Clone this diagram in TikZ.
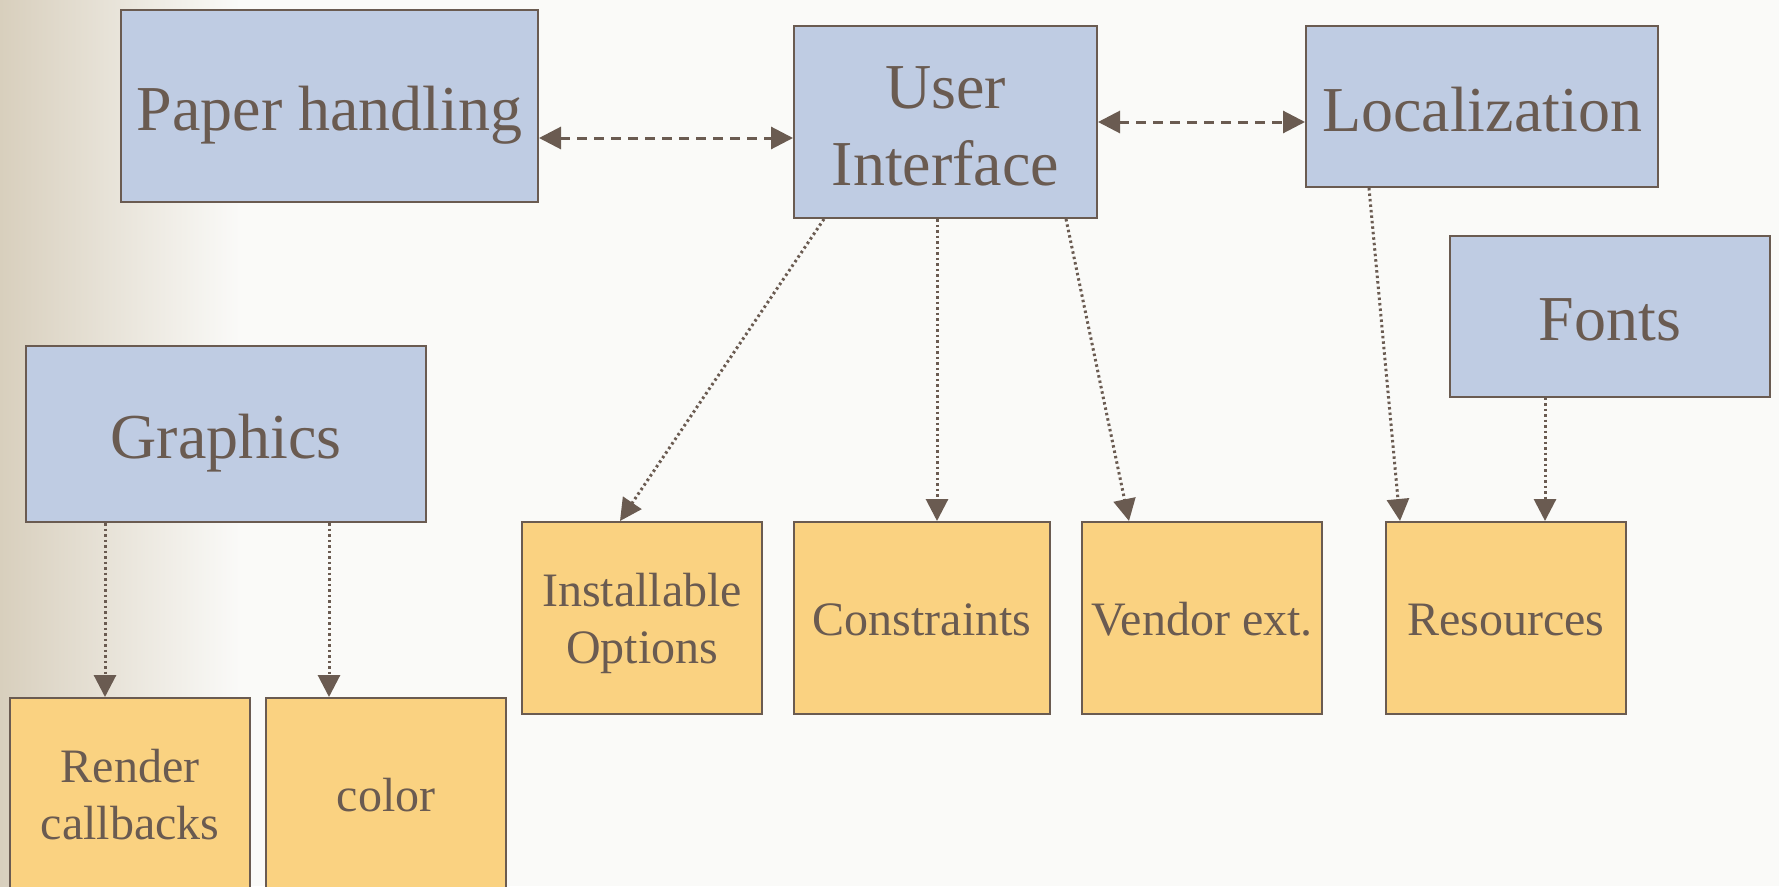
\documentclass[tikz,border=0pt]{standalone}
\usepackage{fontspec}
\setmainfont{Liberation Serif}
\usetikzlibrary{arrows.meta}
\definecolor{bgc}{HTML}{FAFAF8}
\definecolor{tanc}{HTML}{D8CFBD}
\definecolor{bluebox}{HTML}{BFCCE3}
\definecolor{orangebox}{HTML}{FAD281}
\definecolor{ink}{HTML}{6A5B51}
\begin{document}
\begin{tikzpicture}[x=1pt,y=-1pt,
  boxbase/.style={draw=ink, line width=2pt, text=ink, align=center, inner sep=0pt},
  bigbox/.style={boxbase, fill=bluebox, font=\fontsize{64}{77}\selectfont, text height=49pt, text depth=0pt},
  bigtwo/.style={bigbox, text height=126pt},
  smallbox/.style={boxbase, fill=orangebox, font=\fontsize{48}{57}\selectfont, minimum height=192pt, text height=34pt, text depth=0pt},
  smalltwo/.style={smallbox, text height=91pt},
  dasharr/.style={draw=ink, line width=3pt, dash pattern=on 10pt off 7pt,
    {Triangle[length=22pt,width=22pt]}-{Triangle[length=22pt,width=22pt]}},
  dotarr/.style={draw=ink, line width=3pt, dash pattern=on 2.5pt off 3pt,
    -{Triangle[length=22pt,width=22pt]}}
]
\useasboundingbox (0,0) rectangle (1779,886);
\fill[bgc] (0,0) rectangle (1779,886);
\shade[left color=tanc, right color=bgc] (0,0) rectangle (240,886);

\node[bigbox, minimum width=417pt, minimum height=192pt] (paper) at (329.5,106) {Paper handling};
\node[bigtwo, minimum width=303pt, minimum height=192pt] (ui) at (945.5,122) {User\\Interface};
\node[bigbox, minimum width=352pt, minimum height=161pt] (loc) at (1482,106.5) {Localization};
\node[bigbox, minimum width=320pt, minimum height=161pt] (fonts) at (1610,316) {Fonts};
\node[bigbox, minimum width=400pt, minimum height=176pt] (gfx) at (226,434) {Graphics};

\node[smalltwo, minimum width=240pt] (render) at (130,794) {Render\\callbacks};
\node[smallbox, minimum width=240pt] (color) at (386,794) {color};
\node[smalltwo, minimum width=240pt] (inst) at (642,618) {Installable\\Options};
\node[smallbox, minimum width=256pt] (cons) at (922,618) {Constraints};
\node[smallbox, minimum width=240pt] (vend) at (1202,618) {Vendor ext.};
\node[smallbox, minimum width=240pt] (res) at (1506,618) {Resources};

\coordinate (yph) at (0,138);
\draw[dasharr] (paper.east |- yph) -- (ui.west |- yph);
\draw[dasharr] (ui.east) -- (loc.west |- ui.east);

\draw[dotarr] ([xshift=31pt]ui.south west) -- ([xshift=99pt]inst.north west);
\draw[dotarr] ([xshift=-8.5pt]ui.south) -- ([xshift=15pt]cons.north);
\draw[dotarr] ([xshift=-32pt]ui.south east) -- ([xshift=-73pt]vend.north);
\draw[dotarr] ([xshift=64pt]loc.south west) -- ([xshift=15pt]res.north west);
\draw[dotarr] ([xshift=96pt]fonts.south west) -- ([xshift=160pt]res.north west);
\draw[dotarr] ([xshift=80pt]gfx.south west) -- ([xshift=96pt]render.north west);
\draw[dotarr] ([xshift=304pt]gfx.south west) -- ([xshift=64pt]color.north west);
\end{tikzpicture}
\end{document}
